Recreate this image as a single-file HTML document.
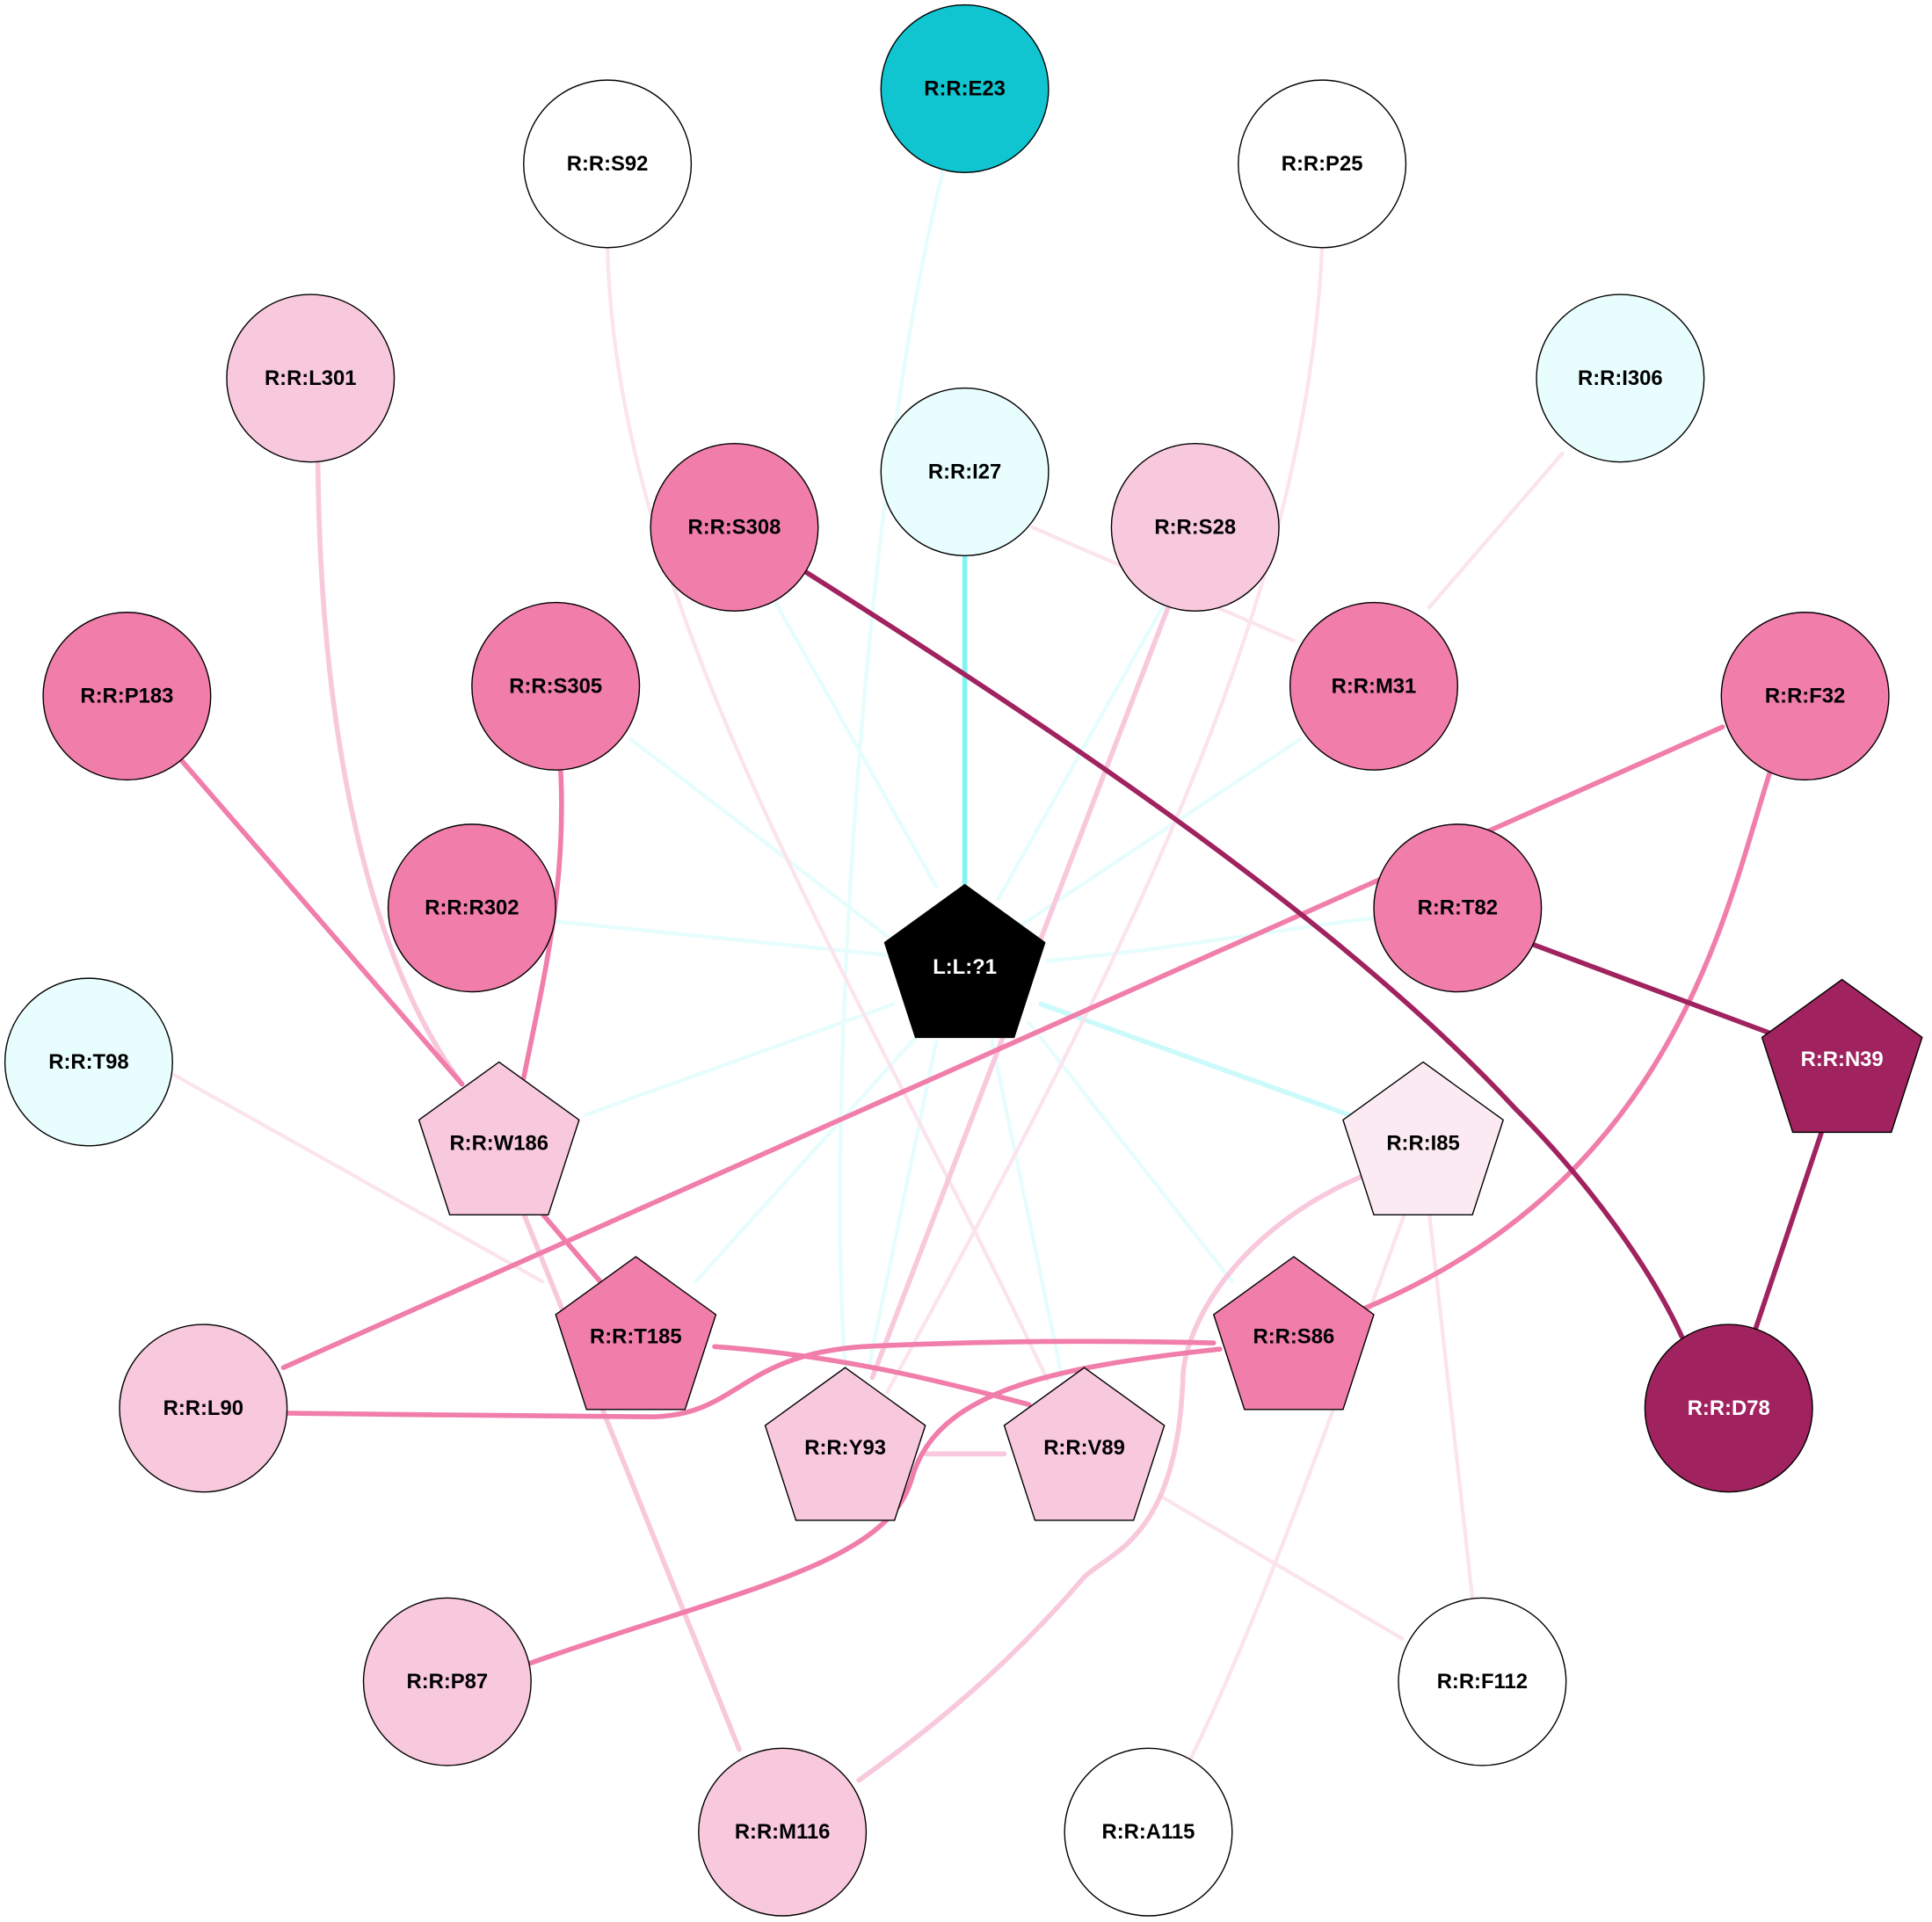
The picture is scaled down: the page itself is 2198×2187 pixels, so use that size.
<!DOCTYPE html>
<html><head><meta charset="utf-8"><style>
html,body{margin:0;padding:0;background:#fff;}
svg{display:block;}
text{font-family:"Liberation Sans",Arial,sans-serif;font-weight:bold;font-size:17px;text-anchor:middle;dominant-baseline:central;}
</style></head><body>
<svg width="2198" height="2187" viewBox="0 0 1568 1560" preserveAspectRatio="none" xmlns="http://www.w3.org/2000/svg">
<rect width="1568" height="1560" fill="#fff"/>
<g fill="none" stroke-linecap="round">
<g stroke="#e6fdfd" stroke-width="3">
<path d="M765,140 C700,400 670,900 686,1110"/>
<path d="M630,490 L760,720"/>
<path d="M945,490 L810,730"/>
<path d="M1055,600 L830,750"/>
<path d="M512,600 L720,760"/>
<path d="M452,748 L718,775"/>
<path d="M1115,745 C1000,760 950,770 850,780"/>
<path d="M725,815 L475,905"/>
<path d="M745,840 L565,1040"/>
<path d="M760,845 L705,1110"/>
<path d="M805,845 L862,1118"/>
<path d="M835,830 L1000,1040"/>
</g>
<path d="M845,815 L1095,905" stroke="#ccfafa" stroke-width="4"/>
<path d="M783,452 L783,718" stroke="#7ff5f5" stroke-width="4"/>
<g stroke="#fbe4ec" stroke-width="3">
<path d="M493,200 C500,500 700,800 850,1120"/>
<path d="M1073,200 C1060,500 900,800 720,1130"/>
<path d="M838,428 L1050,520"/>
<path d="M1268,368 L1160,493"/>
<path d="M137,870 L440,1040"/>
<path d="M943,1215 L1138,1330"/>
<path d="M1140,985 C1080,1150 1020,1320 965,1430"/>
<path d="M1160,985 L1195,1297"/>
</g>
<g stroke="#f8c8dc" stroke-width="4">
<path d="M258,375 C260,600 300,780 375,880"/>
<path d="M948,493 L708,1118"/>
<path d="M425,985 L600,1420"/>
<path d="M752,1180 L815,1180"/>
<path d="M1105,955 C1000,1000 960,1080 960,1120 C955,1250 900,1260 880,1280 C820,1350 760,1400 697,1445"/>
</g>
<g stroke="#f07daa" stroke-width="4">
<path d="M455,625 C460,720 440,800 425,875"/>
<path d="M148,618 L375,880"/>
<path d="M1398,590 L230,1110"/>
<path d="M1437,625 C1400,740 1360,960 1100,1065"/>
<path d="M440,985 L487,1040"/>
<path d="M580,1093 C680,1100 760,1120 835,1140"/>
<path d="M232,1147 C330,1148 480,1150 530,1150 C600,1148 600,1100 700,1093 C800,1088 900,1088 985,1090"/>
<path d="M990,1095 C850,1110 760,1130 740,1200 C720,1270 600,1290 430,1350"/>
</g>
<g stroke="#a0225e" stroke-width="4">
<path d="M652,463 C900,620 1100,760 1230,900 C1290,960 1340,1030 1365,1085"/>
<path d="M1240,765 L1435,838"/>
<path d="M1478,920 L1425,1078"/>
</g>
</g>
<g stroke="#000" stroke-width="1">
<circle cx="783" cy="72" r="68" fill="#10c5d0"/>
<circle cx="493" cy="133" r="68" fill="#fff"/>
<circle cx="1073" cy="133" r="68" fill="#fff"/>
<circle cx="252" cy="307" r="68" fill="#f8c8dc"/>
<circle cx="783" cy="383" r="68" fill="#e8fefe"/>
<circle cx="1315" cy="307" r="68" fill="#e8fefe"/>
<circle cx="596" cy="428" r="68" fill="#f07daa"/>
<circle cx="970" cy="428" r="68" fill="#f8c8dc"/>
<circle cx="1115" cy="557" r="68" fill="#f07daa"/>
<circle cx="451" cy="557" r="68" fill="#f07daa"/>
<circle cx="103" cy="565" r="68" fill="#f07daa"/>
<circle cx="1465" cy="565" r="68" fill="#f07daa"/>
<circle cx="383" cy="737" r="68" fill="#f07daa"/>
<circle cx="1183" cy="737" r="68" fill="#f07daa"/>
<circle cx="72" cy="862" r="68" fill="#e8fefe"/>
<circle cx="165" cy="1143" r="68" fill="#f8c8dc"/>
<circle cx="1403" cy="1143" r="68" fill="#a0225e"/>
<circle cx="363" cy="1365" r="68" fill="#f8c8dc"/>
<circle cx="1203" cy="1365" r="68" fill="#fff"/>
<circle cx="635" cy="1487" r="68" fill="#f8c8dc"/>
<circle cx="932" cy="1487" r="68" fill="#fff"/>
<polygon points="783,718 848,765 823,842 743,842 718,765" fill="#000"/>
<polygon points="405,862 470,909 445,986 365,986 340,909" fill="#f8c8dc"/>
<polygon points="1155,862 1220,909 1195,986 1115,986 1090,909" fill="#fbeaf1"/>
<polygon points="1495,795 1560,842 1535,919 1455,919 1430,842" fill="#a0225e"/>
<polygon points="516,1020 581,1067 556,1144 476,1144 451,1067" fill="#f07daa"/>
<polygon points="1050,1020 1115,1067 1090,1144 1010,1144 985,1067" fill="#f07daa"/>
<polygon points="686,1110 751,1157 726,1234 646,1234 621,1157" fill="#f8c8dc"/>
<polygon points="880,1110 945,1157 920,1234 840,1234 815,1157" fill="#f8c8dc"/>
</g>
<g fill="#000">
<text x="783" y="72">R:R:E23</text>
<text x="493" y="133">R:R:S92</text>
<text x="1073" y="133">R:R:P25</text>
<text x="252" y="307">R:R:L301</text>
<text x="783" y="383">R:R:I27</text>
<text x="1315" y="307">R:R:I306</text>
<text x="596" y="428">R:R:S308</text>
<text x="970" y="428">R:R:S28</text>
<text x="1115" y="557">R:R:M31</text>
<text x="451" y="557">R:R:S305</text>
<text x="103" y="565">R:R:P183</text>
<text x="1465" y="565">R:R:F32</text>
<text x="383" y="737">R:R:R302</text>
<text x="1183" y="737">R:R:T82</text>
<text x="72" y="862">R:R:T98</text>
<text x="165" y="1143">R:R:L90</text>
<text x="1403" y="1143" fill="#fff">R:R:D78</text>
<text x="363" y="1365">R:R:P87</text>
<text x="1203" y="1365">R:R:F112</text>
<text x="635" y="1487">R:R:M116</text>
<text x="932" y="1487">R:R:A115</text>
<text x="783" y="785" fill="#fff">L:L:?1</text>
<text x="405" y="928">R:R:W186</text>
<text x="1155" y="928">R:R:I85</text>
<text x="1495" y="860" fill="#fff">R:R:N39</text>
<text x="516" y="1085">R:R:T185</text>
<text x="1050" y="1085">R:R:S86</text>
<text x="686" y="1175">R:R:Y93</text>
<text x="880" y="1175">R:R:V89</text>
</g>
</svg>
</body></html>
